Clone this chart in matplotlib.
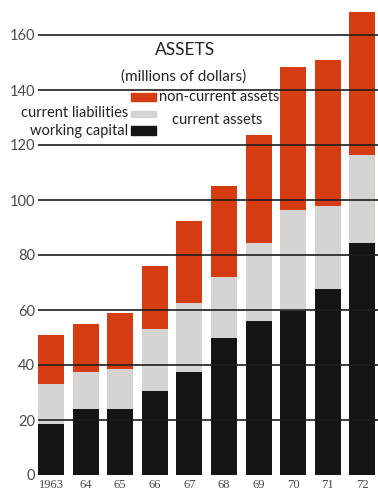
import matplotlib
matplotlib.use("Agg")
import matplotlib.pyplot as plt
from matplotlib.patches import Rectangle

years = ["1963", "64", "65", "66", "67", "68", "69", "70", "71", "72"]
working_capital = [18.5, 24, 24, 30.5, 37.5, 50, 56, 59.5, 67.5, 84.5]
current_assets = [33, 37.5, 38.5, 53, 62.5, 72, 84.5, 96.5, 98, 116.5]
total_assets = [51, 55, 59, 76, 92.5, 105, 123.5, 148.5, 151, 168.5]
yticks = [0, 20, 40, 60, 80, 100, 120, 140, 160]

current_liabilities = [c - w for c, w in zip(current_assets, working_capital)]
non_current_assets = [t - c for t, c in zip(total_assets, current_assets)]

RED = "#d63c12"
GRAY = "#d6d4d2"
BLACK = "#151313"
TXT = "#4a4a4a"

fig = plt.figure(figsize=(3.78, 4.96), dpi=100)
ax = fig.add_axes([38 / 378, 21 / 496, 340 / 378, 172 * 2.75 / 496])

x = list(range(len(years)))
w = 0.75
ax.bar(x, working_capital, width=w, color=BLACK, zorder=2)
ax.bar(x, current_liabilities, width=w, bottom=working_capital, color=GRAY, zorder=2)
ax.bar(x, non_current_assets, width=w, bottom=current_assets, color=RED, zorder=2)

for t in yticks[1:]:
    ax.axhline(t, color="#1e1e1e", lw=1.2, zorder=3)

ax.set_xlim(-0.376, 9.45)
ax.set_ylim(0, 172)
ax.set_yticks(yticks)
ax.set_yticklabels([str(t) for t in yticks], family="Lato", fontsize=10.5, color=TXT)
ax.set_xticks(x)
ax.set_xticklabels(years, family="Liberation Serif", fontsize=9, color=TXT)
ax.tick_params(length=0, axis="y", pad=2)
ax.tick_params(length=0, axis="x", pad=3)
for s in ax.spines.values():
    s.set_visible(False)

ax.text(3.87, 154.5, "ASSETS", ha="center", va="center", family="Lato", fontsize=12.5, color="#222")
ax.text(3.84, 145, "(millions of dollars)", ha="center", va="center", family="Lato", fontsize=11, color="#222")

ax.add_patch(Rectangle((2.31, 136.0), 0.72, 2.9, color=RED, zorder=4))
ax.add_patch(Rectangle((2.31, 130.2), 0.72, 2.2, color=GRAY, zorder=4))
ax.add_patch(Rectangle((2.31, 123.6), 0.72, 3.3, color=BLACK, zorder=4))

ax.text(3.12, 137.5, "non-current assets", ha="left", va="center", family="Lato", fontsize=10.5, color="#222")
ax.text(2.23, 131.6, "current liabilities", ha="right", va="center", family="Lato", fontsize=10.5, color="#222")
ax.text(3.5, 129.1, "current assets", ha="left", va="center", family="Lato", fontsize=10.5, color="#222")
ax.text(2.23, 125.1, "working capital", ha="right", va="center", family="Lato", fontsize=10.5, color="#222")

fig.savefig("out.png", dpi=100)
